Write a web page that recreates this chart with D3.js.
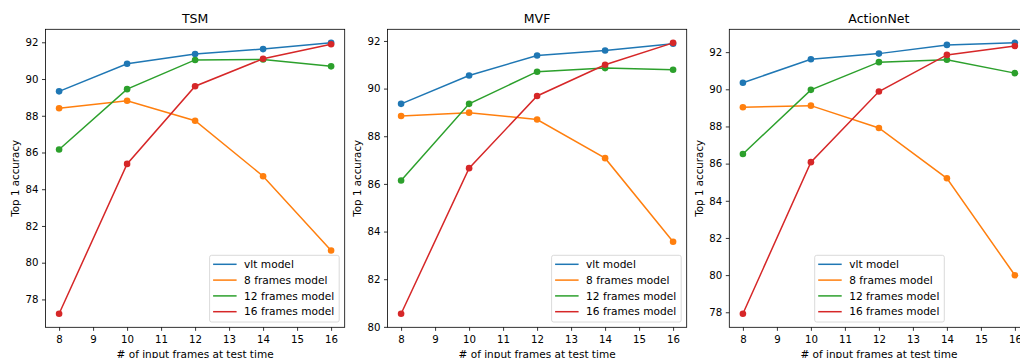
<!DOCTYPE html>
<html>
<head>
<meta charset="utf-8">
<script src="https://cdn.jsdelivr.net/npm/d3@7"></script>
<style>
  html, body { margin: 0; padding: 0; background: #fff; overflow: hidden; }
  svg text { font-family: "DejaVu Sans", sans-serif; fill: #000; }
</style>
</head>
<body>
<svg id="chart" width="1020" height="358"></svg>
<script>
// frame counts used at test time
const frames = [8, 10, 12, 14, 16];
const seriesNames = ["vlt model", "8 frames model", "12 frames model", "16 frames model"];
const colors = ["#1f77b4", "#ff7f0e", "#2ca02c", "#d62728"];
const xTicks = [8, 9, 10, 11, 12, 13, 14, 15, 16];

// values, one array per series
const tsmVlt  = [89.33, 90.83, 91.36, 91.63, 91.97];
const tsm8    = [88.41, 88.82, 87.73, 84.71, 80.66];
const tsm12   = [86.16, 89.45, 91.04, 91.06, 90.69];
const tsm16   = [77.22, 85.38, 89.61, 91.10, 91.89];

const mvfVlt  = [89.36, 90.55, 91.39, 91.60, 91.88];
const mvf8    = [88.85, 88.99, 88.70, 87.08, 83.57];
const mvf12   = [86.14, 89.36, 90.71, 90.86, 90.79];
const mvf16   = [80.55, 86.66, 89.69, 91.00, 91.92];

const actVlt  = [90.35, 91.62, 91.92, 92.39, 92.50];
const act8    = [89.03, 89.12, 87.92, 85.21, 79.99];
const act12   = [86.52, 89.97, 91.46, 91.59, 90.87];
const act16   = [77.92, 86.08, 89.88, 91.85, 92.33];

const panels = [
  { title: "TSM", series: [tsmVlt, tsm8, tsm12, tsm16], legend: "right" },
  { title: "MVF", series: [mvfVlt, mvf8, mvf12, mvf16], legend: "right" },
  { title: "ActionNet", series: [actVlt, act8, act12, act16], legend: "center" }
];

const svg = d3.select("#chart");
const panelLeft = [45.5, 387.5, 729.3];
const plotTop = 29.3, w = 299.2, h = 298;

panels.forEach((p, i) => {
  const g = svg.append("g").attr("transform", `translate(${panelLeft[i]},${plotTop})`);

  // matplotlib-like autoscale: 5% margin on each side
  const all = p.series.flat();
  const lo = d3.min(all), hi = d3.max(all), m = (hi - lo) * 0.05;
  const y = d3.scaleLinear().domain([lo - m, hi + m]).range([h, 0]);
  const x = d3.scaleLinear().domain([7.6, 16.4]).range([0, w]);

  const yTicks = d3.range(70, 96, 2).filter(v => v >= lo - m - 1e-6 && v <= hi + m);

  const xAxis = g.append("g").attr("transform", `translate(0,${h})`)
    .call(d3.axisBottom(x).tickValues(xTicks).tickFormat(d3.format("d")).tickSize(3.5).tickPadding(5));
  const yAxis = g.append("g")
    .call(d3.axisLeft(y).tickValues(yTicks).tickFormat(d3.format("d")).tickSize(3.5).tickPadding(3.5));
  [xAxis, yAxis].forEach(a => {
    a.select(".domain").remove();
    a.selectAll(".tick line").attr("stroke", "#000").attr("stroke-width", 0.8);
    a.selectAll(".tick text").style("font-size", "10.2px").attr("fill", "#000");
  });

  // series lines and markers
  const line = d3.line().x((d, j) => x(frames[j])).y(d => y(d));
  p.series.forEach((s, k) => {
    g.append("path").datum(s)
      .attr("d", line)
      .attr("fill", "none")
      .attr("stroke", colors[k])
      .attr("stroke-width", 1.5);
    g.selectAll(null).data(s).enter().append("circle")
      .attr("cx", (d, j) => x(frames[j]))
      .attr("cy", d => y(d))
      .attr("r", 3.3)
      .attr("fill", colors[k]);
  });

  // frame
  g.append("rect").attr("width", w).attr("height", h)
    .attr("fill", "none").attr("stroke", "#000").attr("stroke-width", 0.8);

  g.append("text").attr("x", w / 2).attr("y", -6)
    .attr("text-anchor", "middle").style("font-size", "12.5px").text(p.title);
  g.append("text").attr("x", w / 2).attr("y", h + 31)
    .attr("text-anchor", "middle").style("font-size", "10.5px").text("# of input frames at test time");
  g.append("text")
    .attr("transform", `translate(${-26.5},${h / 2}) rotate(-90)`)
    .attr("text-anchor", "middle").style("font-size", "10.3px").text("Top 1 accuracy");

  // legend
  const lw = 129.6, lh = 66.7;
  const lx = p.legend === "right" ? w - 5.5 - lw : 85.4;
  const ly = h - 5.3 - lh;
  const lg = g.append("g").attr("transform", `translate(${lx},${ly})`);
  lg.append("rect").attr("width", lw).attr("height", lh).attr("rx", 2)
    .attr("fill", "#fff").attr("fill-opacity", 0.8)
    .attr("stroke", "#d0d0d0").attr("stroke-width", 0.8);
  seriesNames.forEach((name, k) => {
    const ry = 9 + k * 15.8;
    lg.append("line").attr("x1", 3.5).attr("x2", 27).attr("y1", ry).attr("y2", ry)
      .attr("stroke", colors[k]).attr("stroke-width", 1.5);
    lg.append("text").attr("x", 34.5).attr("y", ry).attr("dy", "0.35em")
      .style("font-size", "10.6px").text(name);
  });
});
</script>
</body>
</html>
